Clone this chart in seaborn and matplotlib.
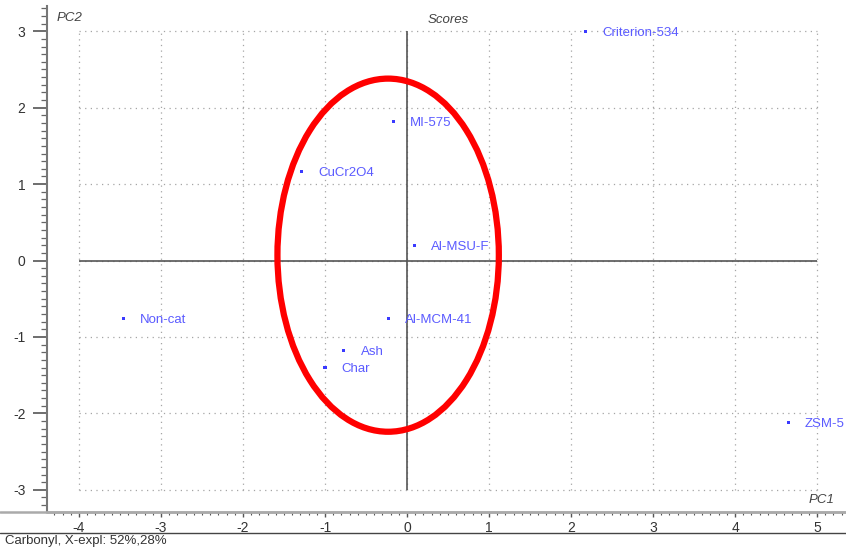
import matplotlib
matplotlib.use("Agg")
import matplotlib.pyplot as plt
from matplotlib.patches import Ellipse
from matplotlib.ticker import MultipleLocator
import seaborn as sns
import pandas as pd

# PCA scores (PC1, PC2) per catalyst
samples = ["Criterion-534", "MI-575", "CuCr2O4", "Al-MSU-F", "Non-cat",
           "Al-MCM-41", "Ash", "Char", "ZSM-5"]
pc1 = [2.18, -0.17, -1.29, 0.09, -3.46, -0.23, -0.77, -1.00, 4.65]
pc2 = [3.00, 1.82, 1.17, 0.20, -0.76, -0.76, -1.18, -1.40, -2.12]

x_ticks = [-4, -3, -2, -1, 0, 1, 2, 3, 4, 5]
y_ticks = [-3, -2, -1, 0, 1, 2, 3]
explained = "Carbonyl, X-expl: 52%,28%"

df = pd.DataFrame({"sample": samples, "PC1": pc1, "PC2": pc2})

sns.set_style("white")
plt.rcParams["font.family"] = ["Liberation Sans", "DejaVu Sans"]

W, H = 846, 549
left_px, bottom_px, top_px = 47, 512, 6
fig = plt.figure(figsize=(W / 100, H / 100), dpi=100)
ax = fig.add_axes([left_px / W, (H - bottom_px) / H,
                   (W - left_px) / W, (bottom_px - top_px) / H])

point_color = "#3a3aff"
label_color = "#5b5bff"

# dotted grid restricted to the tick range
ax.hlines(y_ticks, x_ticks[0], x_ticks[-1], colors="#a5a5a5",
          linestyles=(0, (1, 3.5)), linewidth=0.9, zorder=1)
ax.vlines(x_ticks, y_ticks[0], y_ticks[-1], colors="#a5a5a5",
          linestyles=(0, (1, 3.5)), linewidth=0.9, zorder=1)
# origin cross
ax.hlines(0, x_ticks[0], x_ticks[-1], colors="#555555", linewidth=1.2, zorder=2)
ax.vlines(0, y_ticks[0], y_ticks[-1], colors="#555555", linewidth=1.2, zorder=2)

sns.scatterplot(data=df, x="PC1", y="PC2", ax=ax, marker="s", s=5,
                color=point_color, edgecolor="none", zorder=3, legend=False)

for name, x, y in zip(samples, pc1, pc2):
    ax.annotate(name, (x, y), xytext=(12, 0), textcoords="offset points",
                ha="left", va="center_baseline", fontsize=9.5,
                color=label_color, zorder=4)

# highlighted cluster
ax.add_patch(Ellipse((-0.23, 0.07), 2.70, 4.62, fill=False,
                     edgecolor="#ff0000", linewidth=4.5, zorder=5))

ax.set_xlim((left_px - 407) / 82, (W - 407) / 82)
ax.set_ylim(-3.29, 3.33)
ax.set_xticks(x_ticks)
ax.set_yticks(y_ticks)
ax.set_xticklabels([str(t) for t in x_ticks])
ax.set_yticklabels([str(t) for t in y_ticks])
ax.xaxis.set_minor_locator(MultipleLocator(0.1))
ax.yaxis.set_minor_locator(MultipleLocator(0.1))
ax.tick_params(axis="both", which="both", bottom=True, left=True,
               direction="out")
ax.tick_params(axis="x", which="major", length=3.8, width=1.0,
               color="#555555", pad=2.5, labelsize=10, labelcolor="#333333")
ax.tick_params(axis="x", which="minor", length=1.8, width=0.8,
               color="#555555")
ax.tick_params(axis="y", which="major", length=10, width=1.2,
               color="#555555", pad=5.5, labelsize=10, labelcolor="#333333")
ax.tick_params(axis="y", which="minor", length=4.3, width=0.9,
               color="#666666")
ax.set_xlabel("")
ax.set_ylabel("")

for side in ("top", "right"):
    ax.spines[side].set_visible(False)
ax.spines["left"].set_color("#777777")
ax.spines["left"].set_linewidth(1.5)
ax.spines["bottom"].set_color("#aaaaaa")
ax.spines["bottom"].set_linewidth(1.8)

ax.text(0.0125, 0.988, "PC2", transform=ax.transAxes, style="italic",
        fontsize=9.5, color="#444444", ha="left", va="top")
ax.text(0.502, 0.985, "Scores", transform=ax.transAxes, style="italic",
        fontsize=9.5, color="#444444", ha="center", va="top")
ax.text(0.986, 0.012, "PC1", transform=ax.transAxes, style="italic",
        fontsize=9.5, color="#444444", ha="right", va="bottom")

# full-width base rules and footer
fig.add_artist(plt.Line2D([0, 1], [(H - bottom_px) / H] * 2, color="#aaaaaa",
                          linewidth=1.8, transform=fig.transFigure))
fig.add_artist(plt.Line2D([0, 1], [(H - 533) / H] * 2, color="#444444",
                          linewidth=1.0, transform=fig.transFigure))
fig.text(5 / W, (H - 541) / H, explained, fontsize=9.5, color="#333333",
         ha="left", va="center")

fig.savefig("out.png", dpi=100)
